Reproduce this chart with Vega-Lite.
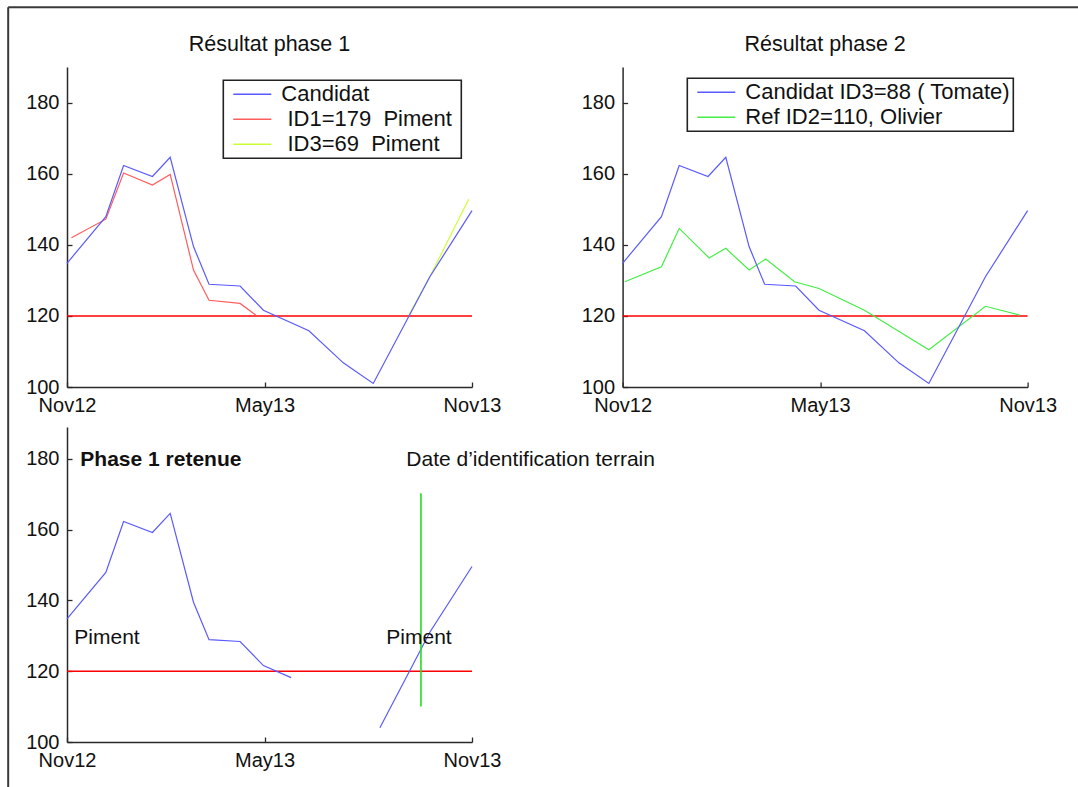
{
  "$schema": "https://vega.github.io/schema/vega-lite/v6.json",
  "autosize": {"type": "pad"},
  "padding": {"left": 7, "top": 6, "right": 0, "bottom": 0},
  "background": "white",
  "bounds": "flush",
  "columns": 2,
  "spacing": {"row": 40, "column": 150.6},
  "resolve": {"scale": {"color": "independent"}, "legend": {"color": "independent"}},
  "config": {
    "font": "Liberation Sans",
    "view": {"stroke": null},
    "axis": {
      "grid": false,
      "title": null,
      "domainColor": "#2a2a2a",
      "domainWidth": 1.5,
      "tickColor": "#2a2a2a",
      "tickWidth": 1.3,
      "tickSize": -5,
      "labelFont": "Liberation Sans",
      "labelFontSize": 20,
      "labelColor": "#111111",
      "labelPadding": 13,
      "labelFlush": false,
      "labelOverlap": false
    },
    "axisX": {"labelPadding": 13},
    "title": {"font": "Liberation Sans", "fontSize": 21.5, "fontWeight": "normal", "color": "#111111", "offset": 12, "anchor": "middle"},
    "legend": {
      "orient": "none",
      "title": null,
      "labelFont": "Liberation Sans",
      "labelFontSize": 22,
      "labelColor": "#111111",
      "labelLimit": 500,
      "padding": 3,
      "rowPadding": 3,
      "strokeColor": "#222222",
      "fillColor": "white"
    }
  },
  "datasets": {
    "cadre": [
      {"jour": -53, "jour2": 1000, "valeur": 307.6, "valeur2": 307.6},
      {"jour": -53, "jour2": -53, "valeur": 307.6, "valeur2": 60}
    ],
    "seuil": [{"jour": 0, "jour2": 365, "valeur": 120}],
    "phase1": [
      {"serie": "ID1=179 Piment", "jour": 4, "valeur": 142.0},
      {"serie": "ID1=179 Piment", "jour": 35, "valeur": 147.2},
      {"serie": "ID1=179 Piment", "jour": 51, "valeur": 160.2},
      {"serie": "ID1=179 Piment", "jour": 77, "valeur": 156.8},
      {"serie": "ID1=179 Piment", "jour": 93, "valeur": 159.8},
      {"serie": "ID1=179 Piment", "jour": 114, "valeur": 132.9},
      {"serie": "ID1=179 Piment", "jour": 128, "valeur": 124.4},
      {"serie": "ID1=179 Piment", "jour": 156, "valeur": 123.5},
      {"serie": "ID1=179 Piment", "jour": 171, "valeur": 120.0},
      {"serie": "ID3=69 Piment", "jour": 308, "valeur": 120.2},
      {"serie": "ID3=69 Piment", "jour": 327, "valeur": 131.0},
      {"serie": "ID3=69 Piment", "jour": 362, "valeur": 152.8},
      {"serie": "Candidat", "jour": 0, "valeur": 134.8},
      {"serie": "Candidat", "jour": 35, "valeur": 147.9},
      {"serie": "Candidat", "jour": 51, "valeur": 162.3},
      {"serie": "Candidat", "jour": 77, "valeur": 159.2},
      {"serie": "Candidat", "jour": 93, "valeur": 164.6},
      {"serie": "Candidat", "jour": 114, "valeur": 139.5},
      {"serie": "Candidat", "jour": 128, "valeur": 128.9},
      {"serie": "Candidat", "jour": 156, "valeur": 128.4},
      {"serie": "Candidat", "jour": 177, "valeur": 121.6},
      {"serie": "Candidat", "jour": 218, "valeur": 115.8},
      {"serie": "Candidat", "jour": 249, "valeur": 106.8},
      {"serie": "Candidat", "jour": 276, "valeur": 101.0},
      {"serie": "Candidat", "jour": 327, "valeur": 131.0},
      {"serie": "Candidat", "jour": 365, "valeur": 149.6}
    ],
    "phase2": [
      {"serie": "Ref ID2=110, Olivier", "jour": 2, "valeur": 129.6},
      {"serie": "Ref ID2=110, Olivier", "jour": 35, "valeur": 133.8},
      {"serie": "Ref ID2=110, Olivier", "jour": 51, "valeur": 144.6},
      {"serie": "Ref ID2=110, Olivier", "jour": 78, "valeur": 136.3},
      {"serie": "Ref ID2=110, Olivier", "jour": 93, "valeur": 139.0},
      {"serie": "Ref ID2=110, Olivier", "jour": 114, "valeur": 132.9},
      {"serie": "Ref ID2=110, Olivier", "jour": 129, "valeur": 136.0},
      {"serie": "Ref ID2=110, Olivier", "jour": 155, "valeur": 129.6},
      {"serie": "Ref ID2=110, Olivier", "jour": 177, "valeur": 127.7},
      {"serie": "Ref ID2=110, Olivier", "jour": 218, "valeur": 121.6},
      {"serie": "Ref ID2=110, Olivier", "jour": 276, "valeur": 110.5},
      {"serie": "Ref ID2=110, Olivier", "jour": 327, "valeur": 122.7},
      {"serie": "Ref ID2=110, Olivier", "jour": 358, "valeur": 120.2},
      {"serie": "Candidat ID3=88 ( Tomate)", "jour": 0, "valeur": 134.8},
      {"serie": "Candidat ID3=88 ( Tomate)", "jour": 35, "valeur": 147.9},
      {"serie": "Candidat ID3=88 ( Tomate)", "jour": 51, "valeur": 162.3},
      {"serie": "Candidat ID3=88 ( Tomate)", "jour": 77, "valeur": 159.2},
      {"serie": "Candidat ID3=88 ( Tomate)", "jour": 93, "valeur": 164.6},
      {"serie": "Candidat ID3=88 ( Tomate)", "jour": 114, "valeur": 139.5},
      {"serie": "Candidat ID3=88 ( Tomate)", "jour": 128, "valeur": 128.9},
      {"serie": "Candidat ID3=88 ( Tomate)", "jour": 156, "valeur": 128.4},
      {"serie": "Candidat ID3=88 ( Tomate)", "jour": 177, "valeur": 121.6},
      {"serie": "Candidat ID3=88 ( Tomate)", "jour": 218, "valeur": 115.8},
      {"serie": "Candidat ID3=88 ( Tomate)", "jour": 249, "valeur": 106.8},
      {"serie": "Candidat ID3=88 ( Tomate)", "jour": 276, "valeur": 101.0},
      {"serie": "Candidat ID3=88 ( Tomate)", "jour": 327, "valeur": 131.0},
      {"serie": "Candidat ID3=88 ( Tomate)", "jour": 365, "valeur": 149.6}
    ],
    "phase3": [
      {"segment": "a", "jour": 0, "valeur": 134.8},
      {"segment": "a", "jour": 35, "valeur": 147.9},
      {"segment": "a", "jour": 51, "valeur": 162.3},
      {"segment": "a", "jour": 77, "valeur": 159.2},
      {"segment": "a", "jour": 93, "valeur": 164.6},
      {"segment": "a", "jour": 114, "valeur": 139.5},
      {"segment": "a", "jour": 128, "valeur": 128.9},
      {"segment": "a", "jour": 156, "valeur": 128.4},
      {"segment": "a", "jour": 177, "valeur": 121.6},
      {"segment": "a", "jour": 202, "valeur": 118.2},
      {"segment": "b", "jour": 282, "valeur": 104.0},
      {"segment": "b", "jour": 327, "valeur": 131.0},
      {"segment": "b", "jour": 365, "valeur": 149.6}
    ],
    "identification": [{"jour": 319, "valeur": 110, "valeur2": 170.3}],
    "annotations": [
      {"jour": 12, "valeur": 178, "texte": "Phase 1 retenue"},
      {"jour": 305.8, "valeur": 178, "texte": "Date d’identification terrain"},
      {"jour": 6.6, "valeur": 127.6, "texte": "Piment"},
      {"jour": 287.8, "valeur": 127.6, "texte": "Piment"}
    ]
  },
  "concat": [
    {
      "width": 405,
      "height": 320,
      "title": {"text": "Résultat phase 1"},
      "encoding": {
        "x": {"field": "jour", "type": "quantitative", "scale": {"domain": [0, 365], "nice": false, "zero": false}, "axis": {"values": [0, 178, 365], "labelExpr": "datum.value == 0 ? 'Nov12' : (datum.value == 365 ? 'Nov13' : 'May13')"}},
        "y": {"field": "valeur", "type": "quantitative", "scale": {"domain": [100, 190], "nice": false, "zero": false}, "axis": {"values": [100, 120, 140, 160, 180]}}
      },
      "layer": [
        {"data": {"name": "seuil"}, "mark": {"type": "rule", "color": "#ff0000", "strokeWidth": 1.5}, "encoding": {"x2": {"field": "jour2"}}},
        {
          "data": {"name": "phase1"},
          "mark": {"type": "line", "strokeWidth": 1.2},
          "encoding": {
            "color": {
              "field": "serie",
              "type": "nominal",
              "scale": {"domain": ["Candidat", "ID1=179 Piment", "ID3=69 Piment"], "range": ["#5a5aff", "#ff5c5c", "#ccff33"]},
              "legend": {
                "orient": "none",
                "legendX": 156.3,
                "legendY": 13.3,
                "symbolType": "M-0.4,0H3.4",
                "symbolSize": 400,
                "symbolStrokeWidth": 1.4,
                "labelOffset": 33,
                "labelExpr": "datum.label == 'Candidat' ? 'Candidat' : (datum.label == 'ID1=179 Piment' ? '\u200b\u00a0ID1=179\u00a0\u00a0Piment\u00a0\u200b' : '\u200b\u00a0ID3=69\u00a0\u00a0Piment')",
                "encode": {"legend": {"update": {"strokeWidth": {"value": 1.6}}}}
              }
            }
          }
        }
      ]
    },
    {
      "width": 405,
      "height": 320,
      "title": {"text": "Résultat phase 2"},
      "encoding": {
        "x": {"field": "jour", "type": "quantitative", "scale": {"domain": [0, 365], "nice": false, "zero": false}, "axis": {"values": [0, 178, 365], "labelExpr": "datum.value == 0 ? 'Nov12' : (datum.value == 365 ? 'Nov13' : 'May13')"}},
        "y": {"field": "valeur", "type": "quantitative", "scale": {"domain": [100, 190], "nice": false, "zero": false}, "axis": {"values": [100, 120, 140, 160, 180]}}
      },
      "layer": [
        {"data": {"name": "seuil"}, "mark": {"type": "rule", "color": "#ff0000", "strokeWidth": 1.5}, "encoding": {"x2": {"field": "jour2"}}},
        {
          "data": {"name": "phase2"},
          "mark": {"type": "line", "strokeWidth": 1.2},
          "encoding": {
            "color": {
              "field": "serie",
              "type": "nominal",
              "scale": {"domain": ["Candidat ID3=88 ( Tomate)", "Ref ID2=110, Olivier"], "range": ["#5a5aff", "#44ee44"]},
              "legend": {
                "orient": "none",
                "legendX": 64.7,
                "legendY": 11.3,
                "symbolType": "M-0.4,0H3.4",
                "symbolSize": 400,
                "symbolStrokeWidth": 1.4,
                "labelOffset": 33,
                "encode": {"legend": {"update": {"strokeWidth": {"value": 1.6}}}}
              }
            }
          }
        }
      ]
    },
    {
      "width": 405,
      "height": 315,
      "encoding": {
        "x": {"field": "jour", "type": "quantitative", "scale": {"domain": [0, 365], "nice": false, "zero": false}, "axis": {"values": [0, 178, 365], "labelExpr": "datum.value == 0 ? 'Nov12' : (datum.value == 365 ? 'Nov13' : 'May13')"}},
        "y": {"field": "valeur", "type": "quantitative", "scale": {"domain": [100, 189], "nice": false, "zero": false}, "axis": {"values": [100, 120, 140, 160, 180]}}
      },
      "layer": [
        {"data": {"name": "cadre"}, "mark": {"type": "rule", "color": "#3a3a3a", "strokeWidth": 2}, "encoding": {"x2": {"field": "jour2"}, "y2": {"field": "valeur2"}}},
        {"data": {"name": "seuil"}, "mark": {"type": "rule", "color": "#ff0000", "strokeWidth": 1.5}, "encoding": {"x2": {"field": "jour2"}}},
        {"data": {"name": "phase3"}, "mark": {"type": "line", "strokeWidth": 1.2, "color": "#5a5aff"}, "encoding": {"detail": {"field": "segment"}}},
        {"data": {"name": "identification"}, "mark": {"type": "rule", "color": "#22dd22", "strokeWidth": 1.6}, "encoding": {"y2": {"field": "valeur2"}}},
        {
          "data": {"name": "annotations"},
          "transform": [{"filter": "datum.texte == 'Phase 1 retenue'"}],
          "mark": {"type": "text", "align": "left", "baseline": "alphabetic", "fontSize": 21, "fontWeight": "bold", "color": "#111111", "font": "Liberation Sans"},
          "encoding": {"text": {"field": "texte"}}
        },
        {
          "data": {"name": "annotations"},
          "transform": [{"filter": "datum.texte != 'Phase 1 retenue'"}],
          "mark": {"type": "text", "align": "left", "baseline": "alphabetic", "fontSize": 21, "color": "#111111", "font": "Liberation Sans"},
          "encoding": {"text": {"field": "texte"}}
        }
      ]
    }
  ]
}
